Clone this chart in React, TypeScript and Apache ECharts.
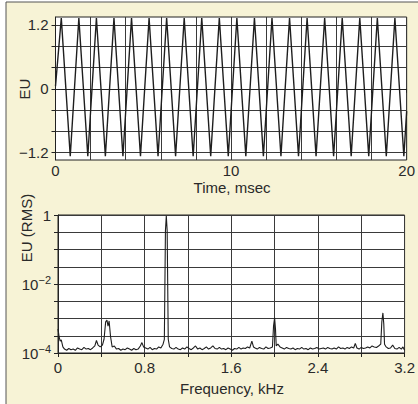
import React, { useEffect, useRef } from "react";
import * as echarts from "echarts";

// Top panel: time-domain signal (peak / trough points)
const sineT = [
  0, 0.33, 0.84, 1.33, 1.84, 2.33, 2.84, 3.33, 3.84, 4.33, 4.84, 5.33, 5.84, 6.33, 6.84,
  7.33, 7.84, 8.33, 8.84, 9.33, 9.84, 10.33, 10.84, 11.33, 11.84, 12.33, 12.84, 13.33, 13.84,
  14.33, 14.84, 15.33, 15.84, 16.33, 16.84, 17.33, 17.84, 18.33, 18.84, 19.33, 19.84, 20,
];
const sineV = [
  0.05, 1.33, -1.27, 1.33, -1.27, 1.33, -1.27, 1.33, -1.27, 1.33, -1.27, 1.33, -1.27, 1.33, -1.27,
  1.33, -1.27, 1.33, -1.27, 1.33, -1.27, 1.33, -1.27, 1.33, -1.27, 1.33, -1.27, 1.33, -1.27,
  1.33, -1.27, 1.33, -1.27, 1.33, -1.27, 1.33, -1.27, 1.33, -1.27, 1.33, -1.27, -0.42,
];

// Bottom panel: spectrum (kHz, EU RMS)
const specF = [
  0.0, 0.01, 0.02, 0.03, 0.045, 0.06, 0.08, 0.1, 0.12, 0.14, 0.16, 0.18, 0.2, 0.22, 0.24, 0.26,
  0.28, 0.3, 0.32, 0.34, 0.355, 0.37, 0.39, 0.41, 0.425, 0.44, 0.452, 0.462, 0.472, 0.485, 0.5,
  0.52, 0.54, 0.56, 0.58, 0.6, 0.62, 0.64, 0.66, 0.68, 0.7, 0.72, 0.74, 0.76, 0.775, 0.79, 0.81,
  0.83, 0.85, 0.87, 0.89, 0.91, 0.93, 0.95, 0.97, 0.982, 0.992, 1.0, 1.008, 1.018, 1.03, 1.05, 1.07,
  1.09, 1.11, 1.13, 1.15, 1.17, 1.19, 1.21, 1.23, 1.25, 1.27, 1.29, 1.31, 1.33, 1.35, 1.37, 1.39,
  1.41, 1.43, 1.45, 1.47, 1.49, 1.51, 1.53, 1.55, 1.57, 1.59, 1.61, 1.63, 1.65, 1.67, 1.69, 1.71,
  1.73, 1.75, 1.77, 1.79, 1.805, 1.82, 1.84, 1.86, 1.88, 1.9, 1.92, 1.94, 1.96, 1.98, 1.99, 2.0,
  2.008, 2.015, 2.03, 2.05, 2.07, 2.09, 2.11, 2.13, 2.15, 2.17, 2.19, 2.21, 2.23, 2.25, 2.27, 2.29,
  2.31, 2.33, 2.35, 2.37, 2.39, 2.41, 2.43, 2.45, 2.47, 2.49, 2.51, 2.53, 2.55, 2.57, 2.59, 2.61,
  2.63, 2.65, 2.67, 2.69, 2.71, 2.73, 2.745, 2.76, 2.78, 2.8, 2.82, 2.84, 2.86, 2.88, 2.9, 2.92,
  2.94, 2.96, 2.98, 2.99, 3.0, 3.008, 3.015, 3.03, 3.05, 3.07, 3.09, 3.11, 3.13, 3.15, 3.17, 3.185,
  3.2,
];
const specV = [
  5.0e-4, 3.0e-4, 2.2e-4, 2.4e-4, 1.5e-4, 1.3e-4, 1.2e-4, 1.35e-4, 1.25e-4, 1.3e-4, 1.2e-4, 1.4e-4,
  1.3e-4, 1.25e-4, 1.45e-4, 1.3e-4, 1.35e-4, 1.25e-4, 1.4e-4, 1.6e-4, 2.3e-4, 1.7e-4, 1.5e-4, 1.7e-4,
  2.5e-4, 8.0e-4, 9.0e-4, 6.0e-4, 8.5e-4, 3.0e-4, 1.5e-4, 1.6e-4, 1.3e-4, 1.35e-4, 1.2e-4, 1.3e-4,
  1.25e-4, 1.4e-4, 1.3e-4, 1.2e-4, 1.35e-4, 1.25e-4, 1.3e-4, 1.6e-4, 2.0e-4, 1.5e-4, 1.4e-4, 1.3e-4,
  1.45e-4, 1.25e-4, 1.35e-4, 1.3e-4, 1.5e-4, 1.4e-4, 1.8e-4, 2.5e-4, 0.35, 0.95, 0.35, 2.5e-4,
  1.5e-4, 1.35e-4, 1.3e-4, 1.45e-4, 1.3e-4, 1.25e-4, 1.4e-4, 1.3e-4, 1.5e-4, 1.35e-4, 1.25e-4,
  1.4e-4, 1.6e-4, 1.3e-4, 1.4e-4, 1.25e-4, 1.35e-4, 1.5e-4, 1.3e-4, 1.4e-4, 1.6e-4, 1.35e-4, 1.3e-4,
  1.45e-4, 1.3e-4, 1.35e-4, 1.25e-4, 1.4e-4, 1.3e-4, 1.2e-4, 1.35e-4, 1.3e-4, 1.45e-4, 1.3e-4,
  1.4e-4, 1.35e-4, 1.5e-4, 1.4e-4, 2.2e-4, 1.5e-4, 1.4e-4, 1.3e-4, 1.45e-4, 1.35e-4, 1.3e-4, 1.5e-4,
  1.35e-4, 1.4e-4, 1.5e-4, 6.0e-4, 1.05e-3, 5.0e-4, 1.6e-4, 1.8e-4, 1.5e-4, 1.4e-4, 1.3e-4, 1.45e-4,
  1.35e-4, 1.3e-4, 1.4e-4, 1.25e-4, 1.35e-4, 1.3e-4, 1.45e-4, 1.3e-4, 1.35e-4, 1.25e-4, 1.4e-4,
  1.3e-4, 1.35e-4, 1.45e-4, 1.3e-4, 1.35e-4, 1.4e-4, 1.3e-4, 1.45e-4, 1.35e-4, 1.3e-4, 1.4e-4,
  1.3e-4, 1.5e-4, 1.35e-4, 1.4e-4, 1.3e-4, 1.45e-4, 1.35e-4, 1.5e-4, 1.4e-4, 1.9e-4, 1.4e-4, 1.3e-4,
  1.45e-4, 1.35e-4, 1.4e-4, 1.5e-4, 1.4e-4, 1.6e-4, 1.5e-4, 1.45e-4, 1.6e-4, 1.8e-4, 8.0e-4,
  1.45e-3, 7.0e-4, 1.8e-4, 1.5e-4, 1.35e-4, 1.4e-4, 1.7e-4, 1.35e-4, 1.3e-4, 1.45e-4, 1.3e-4,
  1.5e-4, 1.2e-4,
];

const timeTicks = [-1.2, -0.8, -0.4, 0, 0.4, 0.8, 1.2];
const timeLabels = [-1.2, 0, 1.2];

const FONT = "Liberation Sans, Arial, Helvetica, sans-serif";
const TEXT = "#2a2a2a";
const CREAM = "#f7f3d6";
const GRID = "#3a3a3a";
const FS = 15;

export default function App() {
  const ref = useRef<HTMLDivElement>(null);
  useEffect(() => {
    if (!ref.current) return;
    const chart = echarts.init(ref.current, undefined, { renderer: "svg" });
    const axisLine = { show: true, lineStyle: { color: "#222", width: 1 } };
    const splitLine = { show: true, lineStyle: { color: GRID, width: 1 } };
    const tick = { show: true, length: 4, lineStyle: { color: "#222", width: 1 } };
    const minus = (s: string) => s.replace("-", "\u2212");
    chart.setOption({
      animation: false,
      backgroundColor: CREAM,
      textStyle: { fontFamily: FONT },
      grid: [
        { left: 55.5, top: 17, width: 353, height: 143, show: true, backgroundColor: "#fff", borderColor: "#222", borderWidth: 1 },
        { left: 58, top: 215, width: 352, height: 138, show: true, backgroundColor: "#fff", borderColor: "#222", borderWidth: 1 },
      ],
      xAxis: [
        {
          type: "value", gridIndex: 0, min: 0, max: 20, interval: 2,
          axisLine, axisTick: tick, splitLine,
          axisLabel: {
            margin: 3, fontSize: FS, color: TEXT, fontFamily: FONT,
            showMinLabel: true, showMaxLabel: true,
            formatter: (v: number) => (Math.round(v) % 10 === 0 ? String(Math.round(v)) : ""),
          },
        },
        {
          type: "value", gridIndex: 1, min: 0, max: 3.2, interval: 0.4,
          axisLine, axisTick: tick, splitLine,
          axisLabel: {
            margin: 7, fontSize: FS, color: TEXT, fontFamily: FONT,
            showMinLabel: true, showMaxLabel: true,
            formatter: (v: number) => {
              const k = Math.round(v * 10);
              return k % 8 === 0 ? String(k / 10) : "";
            },
          },
        },
      ],
      yAxis: [
        {
          type: "value", gridIndex: 0, min: -1.34, max: 1.35,
          axisLine, splitLine,
          axisTick: { ...tick, customValues: timeTicks },
          axisLabel: {
            customValues: timeLabels, margin: 7, fontSize: FS, color: TEXT, fontFamily: FONT,
            formatter: (v: number) => minus(String(Math.round(v * 10) / 10)),
          },
        },
        {
          type: "log", logBase: Math.sqrt(10), gridIndex: 1, min: 1e-4, max: 1, splitNumber: 8,
          axisLine, axisTick: tick, splitLine,
          axisLabel: {
            margin: 7, fontSize: FS, color: TEXT, fontFamily: FONT,
            formatter: (v: number) => {
              const e = Math.round(Math.log10(v) * 2) / 2;
              if (e === 0) return "1";
              if (e === -2) return "10{s|\u22122}";
              if (e === -4) return "10{s|\u22124}";
              return "";
            },
            rich: { s: { fontSize: 11, fontFamily: FONT, color: TEXT, verticalAlign: "top", padding: [0, 0, 8, 0] } },
          },
        },
      ],
      series: [
        {
          type: "line", xAxisIndex: 0, yAxisIndex: 0, symbol: "none",
          lineStyle: { color: "#1e1e1e", width: 1.4 },
          data: sineT.map((t, i) => [t, sineV[i]]),
        },
        {
          type: "line", xAxisIndex: 1, yAxisIndex: 1, symbol: "none",
          lineStyle: { color: "#1e1e1e", width: 1.1 },
          data: specF.map((f, i) => [f, specV[i]]),
        },
      ],
      graphic: [
        { type: "rect", left: 0, top: 0, shape: { width: 6, height: 404 }, style: { fill: "#fff" }, silent: true },
        { type: "rect", left: 0, top: 0, shape: { width: 418, height: 2 }, style: { fill: "#fff" }, silent: true },
        { type: "line", shape: { x1: 6, y1: 2, x2: 6, y2: 404 }, style: { stroke: "#555", lineWidth: 1 }, silent: true },
        { type: "line", shape: { x1: 6, y1: 2, x2: 418, y2: 2 }, style: { stroke: "#555", lineWidth: 1 }, silent: true },
        { type: "text", x: 24, y: 89, rotation: Math.PI / 2, style: { text: "EU", fontSize: FS, fontFamily: FONT, fill: TEXT, align: "center", verticalAlign: "middle" } },
        { type: "text", x: 232, y: 187, style: { text: "Time, msec", fontSize: FS, fontFamily: FONT, fill: TEXT, align: "center", verticalAlign: "middle" } },
        { type: "text", x: 26, y: 228, rotation: Math.PI / 2, style: { text: "EU (RMS)", fontSize: FS, fontFamily: FONT, fill: TEXT, align: "center", verticalAlign: "middle" } },
        { type: "text", x: 232, y: 388, style: { text: "Frequency, kHz", fontSize: FS, fontFamily: FONT, fill: TEXT, align: "center", verticalAlign: "middle" } },
      ],
    });
    return () => chart.dispose();
  }, []);
  return <div ref={ref} style={{ position: "absolute", left: 0, top: 0, width: 418, height: 404 }} />;
}
